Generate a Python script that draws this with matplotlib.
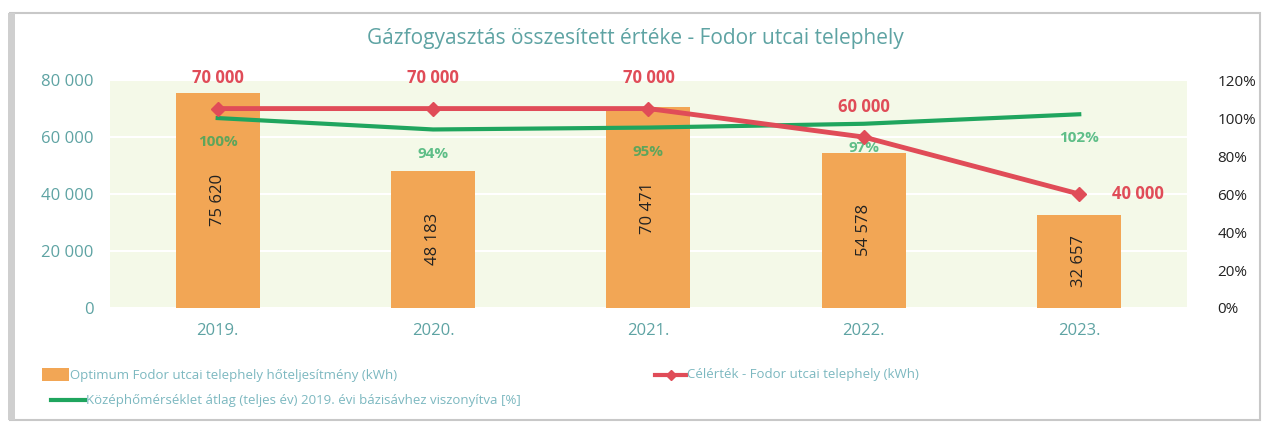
import numpy as np
import matplotlib.pyplot as plt
from matplotlib.lines import Line2D
from matplotlib.patches import Rectangle

# adatok
evek = ["2019.", "2020.", "2021.", "2022.", "2023."]
hoteljesitmeny = [75620, 48183, 70471, 54578, 32657]
celertek = [70000, 70000, 70000, 60000, 40000]
homerseklet = [1.00, 0.94, 0.95, 0.97, 1.02]

left_ticks = [0, 20000, 40000, 60000, 80000]
right_ticks = [0, 0.2, 0.4, 0.6, 0.8, 1.0, 1.2]

c_bar = "#f2a655"
c_red = "#e04c58"
c_green = "#1fa55e"
c_teal = "#5ea3a3"
c_bg = "#f4f9e8"

plt.rcParams["font.family"] = ["Open Sans", "DejaVu Sans"]

fig = plt.figure(figsize=(12.7, 4.26), dpi=100)
fig.patch.set_facecolor("white")

# keret (szkennelt kártya)
fig.add_artist(Rectangle((0.008, 0.015), 0.984, 0.955, transform=fig.transFigure,
                         fill=False, edgecolor="#c8c8c8", lw=1.5))
fig.add_artist(Rectangle((0.006, 0.015), 0.006, 0.955, transform=fig.transFigure,
                         facecolor="#cfcfcf", edgecolor="none"))

ax = fig.add_axes([0.0866, 0.277, 0.848, 0.535])
ax.set_facecolor(c_bg)
x = np.arange(len(evek))

ax.bar(x, hoteljesitmeny, width=0.39, color=c_bar, zorder=2)
for xi, v in zip(x, hoteljesitmeny):
    ax.text(xi, v / 2, f"{v:,}".replace(",", " "), rotation=90, ha="center", va="center",
            fontsize=12, color="#222222", zorder=5)

ax.set_xlim(-0.5, 4.5)
ax.set_ylim(0, 80000)
ax.set_yticks(left_ticks)
ax.set_yticklabels([f"{t:,}".replace(",", " ") for t in left_ticks])
ax.yaxis.grid(True, color="white", lw=1.5, zorder=1)
ax.set_axisbelow(True)
ax.set_xticks(x)
ax.set_xticklabels(evek)
ax.tick_params(axis="both", length=0, labelsize=12, labelcolor=c_teal)
ax.tick_params(axis="x", pad=11)
ax.tick_params(axis="y", pad=12)
for s in ax.spines.values():
    s.set_visible(False)

ax2 = ax.twinx()
ax2.plot(x, homerseklet, color=c_green, lw=3, zorder=3)
for xi, v in zip(x, homerseklet):
    ax2.text(xi, v - 0.09, f"{v * 100:.0f}%", ha="center", va="top", fontsize=11,
             fontweight="bold", color=c_green, alpha=0.7, zorder=6)
ax2.set_ylim(0, 1.2)
ax2.set_yticks(right_ticks)
ax2.set_yticklabels([f"{t * 100:.0f}%" for t in right_ticks])
ax2.tick_params(axis="y", length=0, labelsize=11, labelcolor="#222222", pad=22)
for s in ax2.spines.values():
    s.set_visible(False)
ax.set_zorder(0)
ax2.set_zorder(1)
ax2.patch.set_visible(False)

# célérték vonal a bal tengelyen, de a zöld fölött
ax3 = ax.twinx()
ax3.set_ylim(ax.get_ylim())
ax3.axis("off")
ax3.set_zorder(2)
ax3.plot(x, celertek, color=c_red, lw=3.5, marker="D", ms=7)
for i, (xi, v) in enumerate(zip(x, celertek)):
    txt = f"{v:,}".replace(",", " ")
    if i == len(x) - 1:
        ax3.text(xi + 0.15, v, txt, ha="left", va="center", fontsize=12,
                 fontweight="bold", color=c_red)
    else:
        ax3.text(xi, v + 7500, txt, ha="center", va="bottom", fontsize=12,
                 fontweight="bold", color=c_red)
ax3.set_xlim(-0.5, 4.5)

fig.text(0.5, 0.91, "Gázfogyasztás összesített értéke - Fodor utcai telephely",
         ha="center", va="center", fontsize=15, color=c_teal)

# jelmagyarázat
fs = 9.5
lc = "#7cb8c0"
fig.add_artist(Rectangle((0.033, 0.105), 0.021, 0.03, transform=fig.transFigure,
                         facecolor=c_bar, edgecolor="none"))
fig.text(0.055, 0.118, "Optimum Fodor utcai telephely hőteljesítmény (kWh)",
         fontsize=fs, color=lc, va="center")
fig.add_artist(Line2D([0.516, 0.528, 0.540], [0.12, 0.12, 0.12], transform=fig.transFigure,
                      color=c_red, lw=3, marker="D", ms=5, markevery=[1]))
fig.text(0.541, 0.12, "Célérték - Fodor utcai telephely (kWh)",
         fontsize=fs, color=lc, va="center")
fig.add_artist(Line2D([0.04, 0.067], [0.06, 0.06], transform=fig.transFigure,
                      color=c_green, lw=3))
fig.text(0.068, 0.06, "Középhőmérséklet átlag (teljes év) 2019. évi bázisávhez viszonyítva [%]",
         fontsize=fs, color=lc, va="center")

fig.savefig("out.png", dpi=100, facecolor="white")
